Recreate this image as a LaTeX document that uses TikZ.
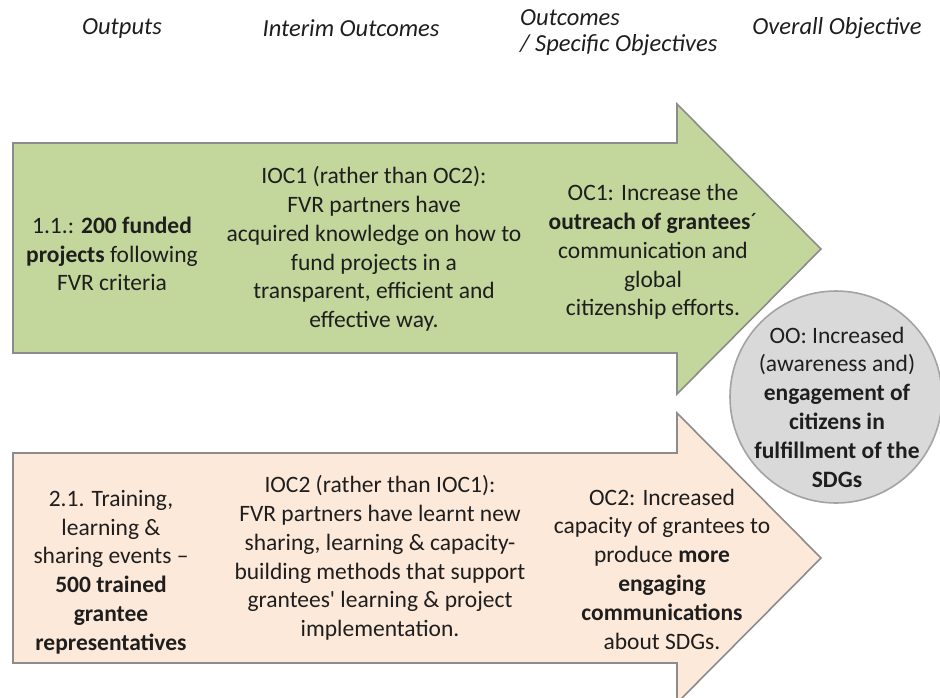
\documentclass[tikz,border=0pt]{standalone}
\usepackage{fontspec}
\setmainfont{Carlito}
\definecolor{greenfill}{HTML}{C3D69B}
\definecolor{peachfill}{HTML}{FDE9D9}
\definecolor{greyfill}{HTML}{D9D9D9}
\definecolor{edgegrey}{HTML}{8C8C8C}
\definecolor{textgrey}{HTML}{1E1E1E}
\tikzset{
  arrowshape/.style={draw=edgegrey, line width=1.6pt, line join=miter},
  txt/.style={align=center, inner sep=0pt, text=textgrey, font=\fontsize{23.5}{28.8}\selectfont},
  head/.style={align=left, inner sep=0pt, text=textgrey, font=\fontsize{24.5}{26}\selectfont\itshape}
}
\begin{document}
\begin{tikzpicture}[x=1pt,y=-1pt]
\useasboundingbox (0,0) rectangle (940,697);
\clip (0,0) rectangle (940,697);
% headers
\node[head] (h1) at (122,29) {Outputs};
\node[head] (h2) at (351,28) {Interim Outcomes};
\node[head, anchor=west] (h3) at (520,33) {Outcomes\\/ Specific Objectives};
\node[head] (h4) at (837,28) {Overall Objective};
% green arrow
\fill[greenfill] (13,143) -- (677,143) -- (677,104) -- (821,249) -- (677,394) -- (677,353) -- (13,353) -- cycle;
\draw[arrowshape] (13,143) -- (677,143) -- (677,104) -- (821,249) -- (677,394) -- (677,353) -- (13,353) -- cycle;
% peach arrow
\fill[peachfill] (13,453) -- (677,453) -- (677,413) -- (821,558) -- (677,703) -- (677,663) -- (13,663) -- cycle;
\draw[arrowshape] (13,453) -- (677,453) -- (677,413) -- (821,558) -- (677,703) -- (677,663) -- (13,663) -- cycle;
% circle
\node[circle, draw=edgegrey!80, line width=1.6pt, fill=greyfill, minimum size=212pt, inner sep=0pt] (oo) at (836,397) {};
% texts
\node[txt] (o1) at (112,254) {1.1.: \textbf{200 funded}\\\textbf{projects} following\\FVR criteria};
\node[txt] (i1) at (374,249) {IOC1 (rather than OC2):\\FVR partners have\\acquired knowledge on how to\\fund projects in a\\transparent, efficient and\\effective way.};
\node[txt] (c1) at (653,252) {OC1: Increase the\\\textbf{outreach of grantees}´\\communication and\\global\\citizenship efforts.};
\node[txt] (ootxt) at (837,407) {OO: Increased\\(awareness and)\\\textbf{engagement of}\\\textbf{citizens in}\\\textbf{fulfillment of the}\\\textbf{SDGs}};
\node[txt] (o2) at (111,572) {2.1. Training,\\learning \&\\sharing events --\\\textbf{500 trained}\\\textbf{grantee}\\\textbf{representatives}};
\node[txt] (i2) at (380,558) {IOC2 (rather than IOC1):\\FVR partners have learnt new\\sharing, learning \& capacity-\\building methods that support\\grantees\textquotesingle{} learning \& project\\implementation.};
\node[txt] (c2) at (662,569) {OC2: Increased\\capacity of grantees to\\produce \textbf{more}\\\textbf{engaging}\\\textbf{communications}\\about SDGs.};
\end{tikzpicture}
\end{document}
